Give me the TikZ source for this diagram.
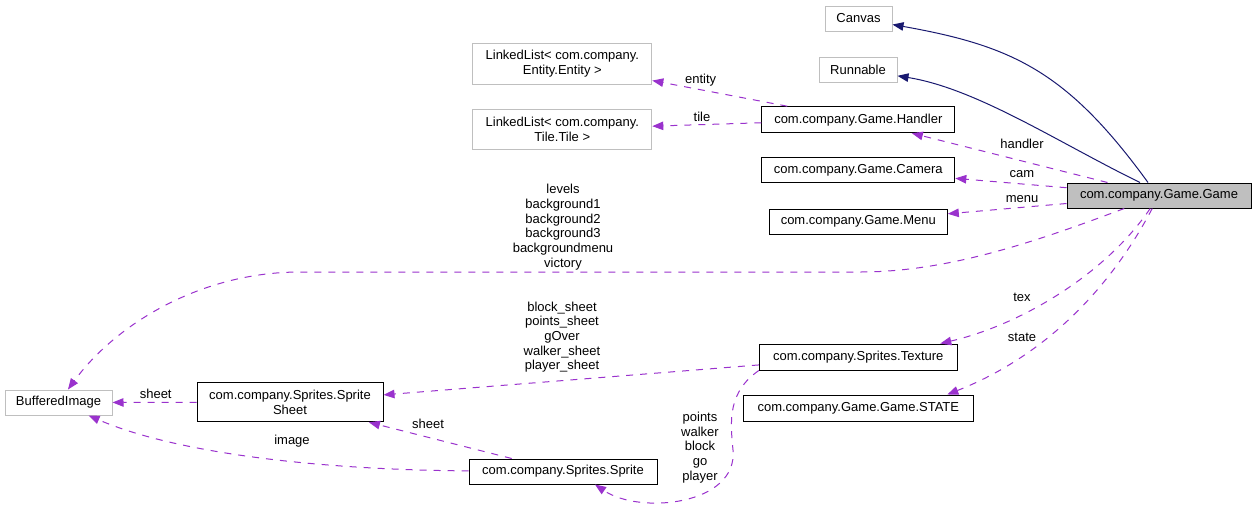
\documentclass[tikz,border=0pt]{standalone}
\usepackage{fontspec}
\setmainfont{Liberation Sans}
\usetikzlibrary{arrows.meta}
\definecolor{edgep}{HTML}{9A32CD}
\definecolor{edgen}{HTML}{191970}
\definecolor{extgray}{HTML}{BFBFBF}
\begin{document}
\begin{tikzpicture}[x=1pt,y=-1pt,
  font=\fontsize{13}{14.7}\selectfont,
  box/.style={draw=black, line width=1pt, inner sep=0pt, align=center, fill=white},
  extbox/.style={draw=extgray, line width=1pt, inner sep=0pt, align=center, fill=white},
  mainbox/.style={draw=black, line width=1pt, inner sep=0pt, align=center, fill=extgray},
  lbl/.style={inner sep=0pt, align=center},
  dep/.style={draw=edgep, line width=1pt, dash pattern=on 7pt off 7pt,
    -{Triangle[length=11pt,width=8.5pt]}, edgep},
  inh/.style={draw=edgen, line width=1pt, -{Triangle[length=11pt,width=8.5pt]}, edgen}
]
\useasboundingbox[fill=white] (0,0) rectangle (1256,507);

% nodes
\node[extbox, minimum width=67pt, minimum height=25pt] (canvas) at (858.5,18.5) {Canvas};
\node[extbox, minimum width=78pt, minimum height=25pt] (runnable) at (858,69.5) {Runnable};
\node[extbox, minimum width=179pt, minimum height=41pt] (entity) at (562.3,63.5) {LinkedList< com.company.\\Entity.Entity >};
\node[extbox, minimum width=179pt, minimum height=40pt] (tile) at (562.3,129) {LinkedList< com.company.\\Tile.Tile >};
\node[box, minimum width=193pt, minimum height=26pt] (handler) at (858.3,119.7) {com.company.Game.Handler};
\node[box, minimum width=193pt, minimum height=25pt] (camera) at (858.3,170.2) {com.company.Game.Camera};
\node[box, minimum width=178pt, minimum height=25pt] (menu) at (858.3,221.5) {com.company.Game.Menu};
\node[mainbox, minimum width=184pt, minimum height=25pt] (game) at (1159,195.5) {com.company.Game.Game};
\node[extbox, minimum width=107pt, minimum height=25pt] (bufimg) at (58.5,402.5) {BufferedImage};
\node[box, minimum width=186pt, minimum height=39pt] (sheet) at (290,402.3) {com.company.Sprites.Sprite\\Sheet};
\node[box, minimum width=198pt, minimum height=26pt] (texture) at (858.3,357) {com.company.Sprites.Texture};
\node[box, minimum width=230pt, minimum height=26pt] (state) at (858.3,408) {com.company.Game.Game.STATE};
\node[box, minimum width=188pt, minimum height=25pt] (sprite) at (563,471.5) {com.company.Sprites.Sprite};

% inheritance
\draw[inh] ([xshift=-11pt]game.north) .. controls (1067,71) and (1012,45.8) .. (canvas);
\draw[inh] ([xshift=-19pt]game.north) .. controls (1059,143) and (977,88.6) .. (runnable);

% usage
\draw[dep] (game) -- (handler);
\draw[dep] (game) -- (camera);
\draw[dep] (game) -- (menu);
\draw[dep] (handler) -- (entity);
\draw[dep] (handler) -- (tile);
\draw[dep] (game) .. controls (1040,240) and (950,272) .. (860,272) -- (300,272)
  .. controls (200,272) and (115,325) .. (bufimg);
\draw[dep] (game) .. controls (1105,275) and (1020,325) .. ([xshift=82pt]texture.north);
\draw[dep] (game) .. controls (1120,270) and (1060,350) .. ([xshift=89pt]state.north);
\draw[dep] (texture) -- (sheet);
\draw[dep] (texture.south west) .. controls (728,392) and (730,420) .. (733,450)
  .. controls (738,505) and (640,515) .. ([xshift=32pt]sprite.south);
\draw[dep] (sheet) -- (bufimg);
\draw[dep] (sprite) -- (sheet);
\draw[dep] (sprite) .. controls (330,470) and (180,455) .. (bufimg);

% labels
\node[lbl] (lhandler) at (1022,144) {handler};
\node[lbl] (lcam) at (1022,174) {cam};
\node[lbl] (lmenu) at (1022,199) {menu};
\node[lbl] (lentity) at (700.7,80) {entity};
\node[lbl] (ltile) at (702,117) {tile};
\node[lbl] (llevels) at (563,227) {levels\\background1\\background2\\background3\\backgroundmenu\\victory};
\node[lbl] (ltex) at (1022,297) {tex};
\node[lbl] (lstate) at (1022,337) {state};
\node[lbl] (lsheets) at (562,337.2) {block\_sheet\\points\_sheet\\gOver\\walker\_sheet\\player\_sheet};
\node[lbl] (lpoints) at (700,447.5) {points\\walker\\block\\go\\player};
\node[lbl] (lsheet1) at (155.7,394.3) {sheet};
\node[lbl] (lsheet2) at (428,424) {sheet};
\node[lbl] (limage) at (292,441) {image};
\end{tikzpicture}
\end{document}
